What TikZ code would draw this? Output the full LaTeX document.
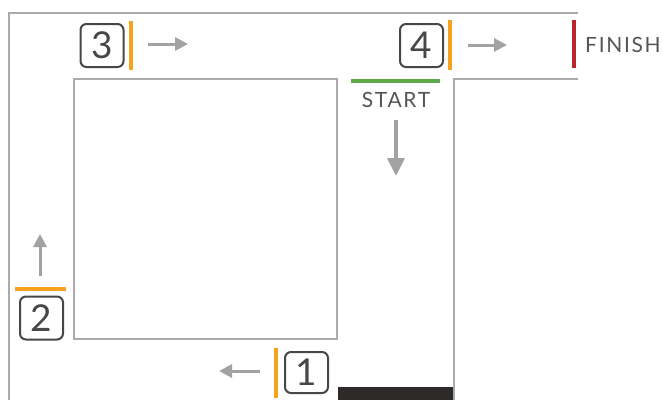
\documentclass[tikz,border=0pt]{standalone}
\usepackage{fontspec}
\setmainfont{Lato}
\newfontfamily\tagfont[LetterSpace=8]{Lato}
\usetikzlibrary{arrows.meta}

\definecolor{wallgray}{HTML}{ABABAB}
\definecolor{boxgray}{HTML}{474747}
\definecolor{arrowgray}{HTML}{A2A2A2}
\definecolor{textgray}{HTML}{555555}
\definecolor{markorange}{HTML}{F6A21C}
\definecolor{startgreen}{HTML}{5DAA48}
\definecolor{finishred}{HTML}{B8252B}
\definecolor{blockdark}{HTML}{2E2A2A}

\begin{document}
\begin{tikzpicture}[x=1pt,y=-1pt,
  wall/.style={draw=wallgray,line width=2pt},
  numbox/.style={draw=boxgray,line width=2pt,rounded corners=6pt,
    minimum width=43pt,minimum height=43pt,inner sep=0pt,
    text=boxgray,font=\fontsize{37}{37}\selectfont},
  bar/.style={line width=4pt},
  movearrow/.style={draw=arrowgray,line width=3pt,
    -{Triangle[length=13pt,width=13pt]}},
  bigarrow/.style={draw=arrowgray,line width=4pt,
    -{Triangle[length=18pt,width=17pt]}},
  tag/.style={text=textgray,inner sep=0pt,font=\tagfont\fontsize{21}{21}\selectfont}]
\useasboundingbox (0,0) rectangle (663,400);

% track walls
\draw[wall] (9,400) -- (9,13) -- (578,13);
\draw[wall] (578,79) -- (454,79) -- (454,400);
\draw[wall] (74,79) rectangle (337,339);

% dark block at the bottom of the start lane
\fill[blockdark] (338,387) rectangle (453,400);

% start line and label
\draw[bar,startgreen] (351,81) -- (440,81);
\node[tag] (start) at (396,100) {START};
\coordinate (downA) at (396,120);
\coordinate (downB) at (396,176);
\draw[bigarrow] (downA) -- (downB);

% checkpoint 1
\draw[bar,markorange] (276,348) -- (276,398);
\node[numbox,minimum height=41pt] (n1) at (306.5,372.5) {1};
\coordinate (leftA) at (260,371);
\coordinate (leftB) at (219,371);
\draw[movearrow] (leftA) -- (leftB);

% checkpoint 2
\draw[bar,markorange] (15,289) -- (66,289);
\node[numbox] (n2) at (41.5,318) {2};
\coordinate (upA) at (40,276);
\coordinate (upB) at (40,234);
\draw[movearrow] (upA) -- (upB);

% checkpoint 3
\node[numbox] (n3) at (102,45.5) {3};
\draw[bar,markorange] (131,21) -- (131,70);
\coordinate (r3A) at (148,44);
\coordinate (r3B) at (188,44);
\draw[movearrow] (r3A) -- (r3B);

% checkpoint 4
\node[numbox] (n4) at (421.5,45.5) {4};
\draw[bar,markorange] (450,20) -- (450,70);
\coordinate (r4A) at (468,45);
\coordinate (r4B) at (507,45);
\draw[movearrow] (r4A) -- (r4B);

% finish line and label
\draw[bar,finishred] (574,20) -- (574,68);
\node[tag,anchor=west] (finish) at (585,44.5) {FINISH};
\end{tikzpicture}
\end{document}
